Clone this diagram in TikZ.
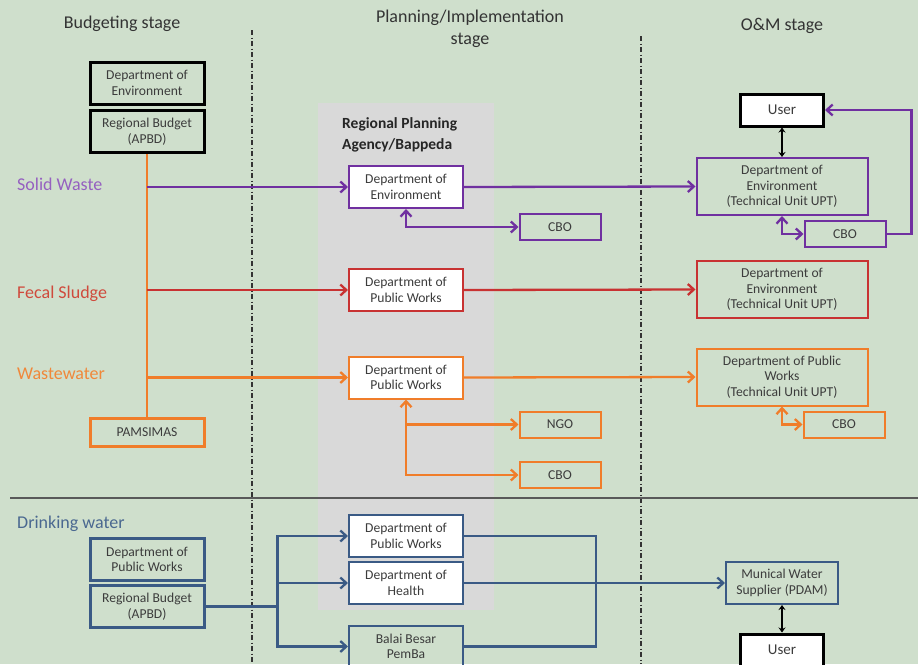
\documentclass[tikz,border=0pt]{standalone}
\usepackage{fontspec}
\setmainfont{Carlito}
\usetikzlibrary{arrows.meta,calc}
\definecolor{bggreen}{HTML}{CFDFCC}
\definecolor{panelgray}{HTML}{D9D9D9}
\definecolor{txtgray}{HTML}{3C3C3C}
\definecolor{swpurple}{HTML}{7030A0}
\definecolor{swtext}{HTML}{9560C0}
\definecolor{fsred}{HTML}{C83232}
\definecolor{fstext}{HTML}{CF4A3C}
\definecolor{wworange}{HTML}{F07D2A}
\definecolor{wwtext}{HTML}{F0883A}
\definecolor{dwblue}{HTML}{3A5A85}
\definecolor{dwtext}{HTML}{4A6890}

\begin{document}
\begin{tikzpicture}[x=1pt,y=-1pt,
   >={Straight Barb[length=6pt,width=11pt]},
   box/.style={draw,line width=2pt,align=center,text=txtgray,inner sep=1pt,
      font=\fontsize{13.6}{15.5}\selectfont},
   leftbox/.style={box,line width=3pt,minimum width=114pt,minimum height=42pt},
   planbox/.style={box,fill=white,minimum width=114pt,minimum height=42pt},
   ombox/.style={box,minimum width=171pt,minimum height=57pt},
   smallbox/.style={box,minimum width=81pt,minimum height=26pt},
   userbox/.style={box,fill=white,draw=black,line width=3pt,minimum width=83pt,
      minimum height=32pt,font=\fontsize{15}{18}\selectfont},
   stagetitle/.style={align=center,text=black!80,font=\fontsize{18}{22}\selectfont},
   rowlabel/.style={anchor=west,inner sep=0pt,font=\fontsize{18}{22}\selectfont},
   link/.style={line width=2.3pt},
   userlink/.style={line width=2.8pt,{Stealth[length=5pt,width=7pt]}-{Stealth[length=5pt,width=7pt]}},
   splitline/.style={line width=1.5pt,draw=black!80,dash pattern=on 5pt off 2.5pt on 1pt off 2.5pt}]
\fill[bggreen] (0,0) rectangle (918,664);
\useasboundingbox (0,0) rectangle (918,664);
\fill[panelgray] (318,103) rectangle (494,610);
\draw[splitline] (252,30) -- (252,664);
\draw[splitline] (641,36) -- (641,664);
\draw[line width=2.5pt,draw=black!65] (10,498) -- (918,498);

\node[stagetitle] (budgettitle) at (122,24) {Budgeting stage};
\node[stagetitle] (plantitle) at (470,29) {Planning/Implementation\\stage};
\node[stagetitle] (omtitle) at (782,26) {O\&M stage};
\node[anchor=north west,align=left,inner sep=0pt,text=black!85,
   font=\bfseries\fontsize{15.5}{21}\selectfont] (bappeda) at (342,117) {Regional Planning\\Agency/Bappeda};

\node[leftbox,draw=black] (envB) at (147,83) {Department of\\Environment};
\node[leftbox,draw=black] (apbd) at (147,131.5) {Regional Budget\\(APBD)};
\node[leftbox,draw=wworange,minimum height=28pt] (pams) at (147,432) {PAMSIMAS};

\node[rowlabel,text=swtext] (swlabel) at (17,184) {Solid Waste};
\node[planbox,draw=swpurple] (envP) at (406,187) {Department of\\Environment};
\node[smallbox,draw=swpurple] (cboP) at (560,227) {CBO};
\node[ombox,draw=swpurple] (envO) at (782,186.5) {Department of\\Environment\\(Technical Unit UPT)};
\node[userbox] (user) at (782,110) {User};
\node[smallbox,draw=swpurple] (cboO) at (845,234) {CBO};

\node[rowlabel,text=fstext] (fslabel) at (17,294) {Fecal Sludge};
\node[planbox,draw=fsred] (pwF) at (406,290) {Department of\\Public Works};
\node[ombox,draw=fsred] (envF) at (782,289.5) {Department of\\Environment\\(Technical Unit UPT)};

\node[rowlabel,text=wwtext] (wwlabel) at (17,374) {Wastewater};
\node[planbox,draw=wworange] (pwW) at (406,377.5) {Department of\\Public Works};
\node[smallbox,draw=wworange] (ngoW) at (560,424.5) {NGO};
\node[smallbox,draw=wworange] (cboW) at (560,475) {CBO};
\node[ombox,draw=wworange] (pwO) at (782,377) {Department of Public\\Works\\(Technical Unit UPT)};
\node[smallbox,draw=wworange] (cboWO) at (844,424.5) {CBO};

\node[rowlabel,text=dwtext] (dwlabel) at (17,524) {Drinking water};
\node[leftbox,draw=dwblue] (pwD) at (147,559.5) {Department of\\Public Works};
\node[leftbox,draw=dwblue] (apbdD) at (147,606.5) {Regional Budget\\(APBD)};
\node[planbox,draw=dwblue] (pwDP) at (406,536) {Department of\\Public Works};
\node[planbox,draw=dwblue] (health) at (406,583) {Department of\\Health};
\node[box,draw=dwblue,minimum width=114pt,minimum height=41pt] (balai) at (406,646.5) {Balai Besar\\PemBa};
\node[box,draw=dwblue,minimum width=112pt,minimum height=42pt] (pdam) at (782,583) {Munical Water\\Supplier (PDAM)};
\node[userbox] (user2) at (782,650) {User};

% solid waste
\draw[link,wworange] (apbd.south) -- (pams.north);
\draw[link,swpurple,->] (apbd.south |- envP.west) -- (envP.west);
\draw[link,swpurple,->] (envP.east) -- (envO.west);
\draw[link,swpurple,<->] (envP.south) |- (cboP.west);
\draw[userlink] (user.south) -- (envO.north);
\draw[link,swpurple,<->] (envO.south) |- (cboO.west);
\draw[link,swpurple,->] (cboO.east) -- ++(25,0) |- (user.east);
% fecal sludge
\draw[link,fsred,->] (apbd.south |- pwF.west) -- (pwF.west);
\draw[link,fsred,->] (pwF.east) -- (envF.west);
% wastewater
\draw[link,wworange,->] (apbd.south |- pwW.west) -- (pwW.west);
\draw[link,wworange,->] (pwW.east) -- (pwO.west);
\draw[link,wworange,<->] (pwW.south) |- (cboW.west);
\draw[link,wworange,->] (pwW.south |- ngoW.west) -- (ngoW.west);
\draw[link,wworange,<->] (pwO.south) |- (cboWO.west);
% drinking water
\coordinate (dwfork) at ($(apbdD.east)+(72,0)$);
\draw[link,dwblue] (apbdD.east) -- (dwfork);
\foreach \t in {pwDP,health,balai}
   \draw[link,dwblue,->] (dwfork) |- (\t.west);
\draw[link,dwblue] (pwDP.east) -- ++(132,0) |- (balai.east);
\draw[link,dwblue,->] (health.east) -- (pdam.west);
\draw[userlink] (pdam.south) -- (user2.north);
\end{tikzpicture}
\end{document}
